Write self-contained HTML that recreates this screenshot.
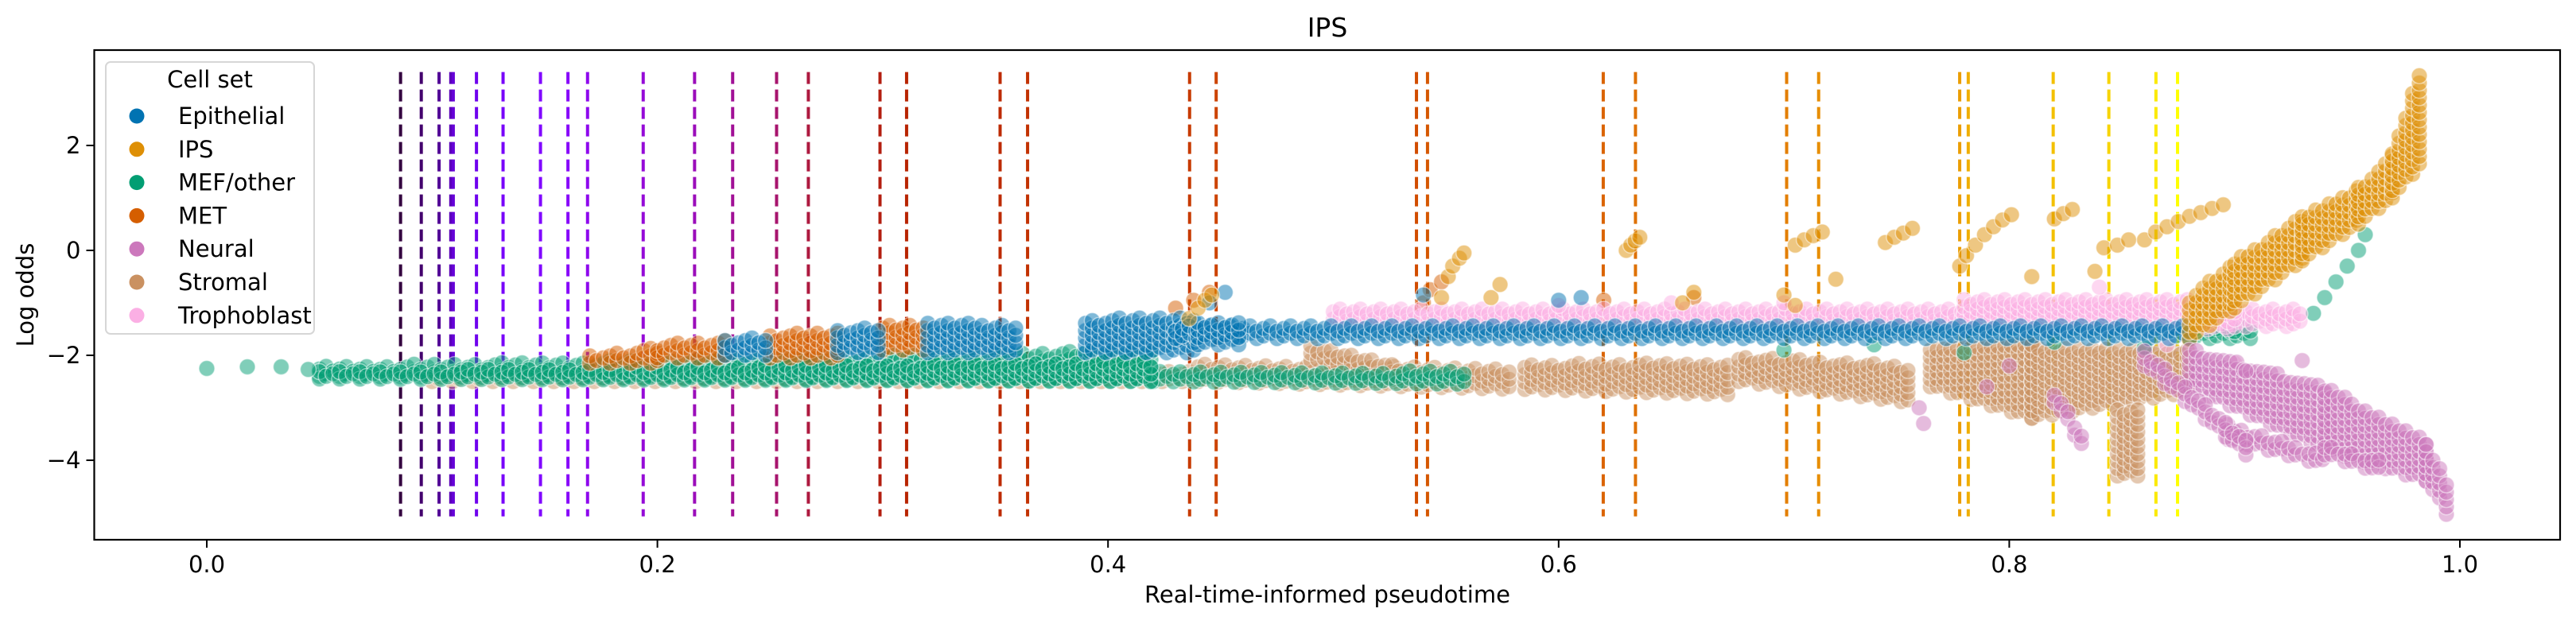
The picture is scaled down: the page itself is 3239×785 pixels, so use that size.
<!DOCTYPE html>
<html><head><meta charset="utf-8"><title>IPS</title>
<style>html,body{margin:0;padding:0;background:#fff;}svg{display:block;font-family:"DejaVu Sans","Liberation Sans",sans-serif;}</style>
</head><body>
<svg id="chart" width="3239" height="785" viewBox="0 0 3239 785" xmlns="http://www.w3.org/2000/svg">
<rect width="3239" height="785" fill="#fff"/>
<g id="vlines"></g>
<g id="points"></g>
<rect x="118.5" y="63" width="3100.5" height="616" fill="none" stroke="#000" stroke-width="2.2"/>
<g id="axes"></g>
<text x="1669" y="46" font-size="33" text-anchor="middle">IPS</text>
<text x="1669" y="758" font-size="29" text-anchor="middle">Real-time-informed pseudotime</text>
<text x="0" y="0" font-size="29" text-anchor="middle" transform="translate(42,371) rotate(-90)">Log odds</text>
<g id="legend">
<rect x="133" y="78" width="262" height="342" rx="6" fill="#fff" fill-opacity="0.85" stroke="#d6d6d6" stroke-width="2"/>
<text x="264" y="110" font-size="29" text-anchor="middle">Cell set</text>
</g>
</svg>
<script>
// ---- data ----
const categories = ["Epithelial","IPS","MEF/other","MET","Neural","Stromal","Trophoblast"];
const catColors = ["#0173b2","#de8f05","#029e73","#d55e00","#cc78bc","#ca9161","#fbafe4"];
const drawOrder = ["Stromal","MEF/other","MET","Trophoblast","Epithelial","IPS","Neural"];
const xTicks = [0.0,0.2,0.4,0.6,0.8,1.0];
const xTickLabels = ["0.0","0.2","0.4","0.6","0.8","1.0"];
const yTicks = [2,0,-2,-4];
const yTickLabels = ["2","0","\u22122","\u22124"];
const vlineX = [0.0860,0.0952,0.1031,0.1083,0.1094,0.1197,0.1315,0.1481,0.1603,0.1690,0.1937,0.2165,0.2334,0.2529,0.2670,0.2988,0.3106,0.3521,0.3643,0.4362,0.4480,0.5369,0.5418,0.6198,0.6341,0.7012,0.7154,0.7780,0.7818,0.8195,0.8442,0.8651,0.8747];
const vlineYMin = -5.07;
const vlineYMax = 3.40;
// dense clusters: category, x-range, top/bottom log odds at each end
const bandCat  = ["Stromal","MEF/other","MEF/other","MET","MET","Epithelial","MET","Epithelial","MET","Epithelial","Epithelial","Epithelial","Trophoblast","Trophoblast","Epithelial","Stromal","Stromal","Stromal","Stromal","Stromal","Stromal","Stromal","MEF/other","IPS","IPS","IPS","IPS","IPS","Neural","Neural","Neural","Neural","Neural","Neural","Neural","MEF/other"];
const bandX0   = [0.10,0.050,0.420,0.170,0.200,0.230,0.250,0.280,0.300,0.320,0.390,0.430,0.500,0.780,0.440,0.440,0.490,0.585,0.680,0.765,0.810,0.848,0.880,0.880,0.900,0.930,0.955,0.970,0.880,0.940,0.985,0.897,0.860,0.820,0.940,0.050];
const bandX1   = [0.44,0.420,0.560,0.200,0.230,0.250,0.280,0.300,0.320,0.360,0.440,0.880,0.930,0.900,0.460,0.580,0.530,0.675,0.755,0.810,0.880,0.858,0.907,0.900,0.930,0.955,0.970,0.982,0.940,0.985,0.995,0.940,0.905,0.833,0.965,0.420];
const bandTop0 = [-2.30,-2.20,-2.30,-2.00,-1.80,-1.70,-1.60,-1.52,-1.42,-1.38,-1.30,-1.42,-1.10,-0.90,-1.35,-2.15,-1.80,-2.15,-2.00,-1.80,-1.80,-3.00,-1.42,-0.90,-0.20,0.65,1.20,1.90,-1.85,-2.60,-3.60,-3.30,-1.90,-2.70,-3.70,-2.30];
const bandTop1 = [-2.30,-1.90,-2.30,-1.85,-1.70,-1.60,-1.52,-1.42,-1.38,-1.40,-1.25,-1.42,-1.10,-0.90,-1.35,-2.25,-2.20,-2.15,-2.20,-1.80,-1.90,-3.00,-1.42,-0.20,0.65,1.20,1.90,3.40,-2.60,-3.60,-4.50,-3.90,-3.60,-3.50,-4.00,-2.10];
const bandBot0 = [-2.50,-2.40,-2.50,-2.15,-2.05,-2.00,-2.05,-1.95,-1.90,-1.95,-1.95,-1.68,-1.45,-1.50,-1.80,-2.50,-2.10,-2.65,-2.50,-2.60,-3.20,-4.30,-1.68,-1.70,-1.10,-0.20,0.50,1.00,-2.60,-3.80,-4.40,-3.60,-2.20,-2.90,-3.90,-2.45];
const bandBot1 = [-2.50,-2.50,-2.55,-2.15,-2.05,-2.00,-2.05,-1.95,-1.90,-1.95,-1.95,-1.68,-1.45,-1.50,-1.80,-2.65,-2.50,-2.75,-2.90,-3.20,-2.70,-4.30,-1.68,-1.10,-0.20,0.50,1.00,1.60,-3.80,-4.40,-5.10,-4.10,-3.90,-3.80,-4.25,-2.50];
// individual points
const ptCat = ["MEF/other","MEF/other","MEF/other","MEF/other",
 "IPS","IPS","IPS","IPS","IPS","IPS","IPS","IPS","IPS","IPS","IPS","IPS","IPS","IPS","IPS","IPS","IPS","IPS","IPS","IPS","IPS","IPS","IPS","IPS","IPS","IPS","IPS","IPS","IPS","IPS","IPS","IPS","IPS","IPS","IPS","IPS","IPS","IPS","IPS","IPS","IPS","IPS","IPS","IPS","IPS","IPS","IPS","IPS","IPS","IPS","IPS",
 "MET","MET","MET","MET","MET","MET","MET","MET","MET",
 "Epithelial","Epithelial","Epithelial","Epithelial","Epithelial",
 "MEF/other","MEF/other","MEF/other","MEF/other","MEF/other","MEF/other","MEF/other","MEF/other","MEF/other","MEF/other","MEF/other","MEF/other",
 "Trophoblast","Trophoblast","Trophoblast","Trophoblast","Trophoblast","Trophoblast",
 "Neural","Neural","Neural","Neural","Neural","Neural"];
const ptX = [0.000,0.018,0.033,0.045,
 0.436,0.440,0.443,0.446,0.548,0.551,0.553,0.556,0.558,0.570,0.574,0.630,0.632,0.634,0.636,0.705,0.709,0.713,0.717,0.745,0.749,0.753,0.757,0.778,0.781,0.785,0.789,0.793,0.797,0.801,0.820,0.824,0.828,0.860,0.865,0.870,0.875,0.880,0.885,0.890,0.895,0.842,0.848,0.853,0.655,0.660,0.700,0.705,0.723,0.810,0.838,
 0.430,0.438,0.445,0.535,0.540,0.543,0.548,0.660,0.620,
 0.445,0.452,0.540,0.600,0.610,
 0.935,0.940,0.945,0.950,0.955,0.958,0.700,0.740,0.780,0.820,0.860,0.900,
 0.600,0.650,0.700,0.840,0.870,0.900,
 0.760,0.762,0.790,0.800,0.905,0.930];
const ptY = [-2.25,-2.22,-2.22,-2.27,
 -1.30,-1.10,-0.95,-0.85,-0.90,-0.50,-0.30,-0.15,-0.05,-0.90,-0.65,0.00,0.10,0.18,0.25,0.10,0.20,0.28,0.35,0.15,0.25,0.33,0.42,-0.30,-0.10,0.10,0.30,0.45,0.58,0.68,0.60,0.70,0.78,0.20,0.35,0.45,0.55,0.65,0.72,0.80,0.87,0.05,0.10,0.20,-1.00,-0.80,-0.85,-1.05,-0.55,-0.50,-0.40,
 -1.10,-0.95,-0.80,-1.50,-1.00,-0.75,-0.60,-0.90,-0.95,
 -1.00,-0.80,-0.85,-0.95,-0.90,
 -1.20,-0.90,-0.60,-0.30,0.00,0.30,-1.90,-1.80,-1.95,-1.75,-1.85,-1.55,
 -1.05,-1.00,-1.00,-0.70,-1.80,-2.15,
 -3.00,-3.30,-2.60,-2.20,-2.30,-2.10];

// ---- axes functions ----
const AX = {left:118.5, right:3219, top:63, bottom:679};
const X0 = 260, XS = 2833, Y0 = 315, YS = 66;
function sx(v){ return X0 + v*XS; }
function sy(v){ return Y0 - v*YS; }
function colorOf(c){ return catColors[categories.indexOf(c)]; }
const NS = "http://www.w3.org/2000/svg";
function mk(tag, attrs, parent){ const e=document.createElementNS(NS,tag); for(const k in attrs) e.setAttribute(k,attrs[k]); parent.appendChild(e); return e; }

// gnuplot colormap
function gnuplot(t){
  const r=Math.sqrt(t), g=t*t*t, b=Math.max(0,Math.sin(2*Math.PI*t));
  return "rgb("+Math.round(r*255)+","+Math.round(g*255)+","+Math.round(b*255)+")";
}
const vg = document.getElementById("vlines");
vlineX.forEach((v,i)=>{
  const t = 0.04 + 0.96*i/(vlineX.length-1);
  const l = mk("line",{x1:sx(v),x2:sx(v),y1:sy(vlineYMax),y2:sy(vlineYMin),stroke:gnuplot(t),"stroke-width":4,"stroke-dasharray":"15 7"},vg);
  
  
});

const pg = document.getElementById("points");
function dot(x,y,cat){
  const c = mk("circle",{cx:sx(x).toFixed(1),cy:sy(y).toFixed(1),r:10,fill:colorOf(cat),"fill-opacity":0.5,stroke:"#fff","stroke-opacity":0.5,"stroke-width":1.5},pg);
  
  
}
drawOrder.forEach(cat=>{
  for(let b=0;b<bandCat.length;b++){
    if(bandCat[b]!==cat) continue;
    const x0=bandX0[b], x1=bandX1[b];
    const dxStep=0.003;
    let col=0;
    for(let x=x0; x<=x1+1e-9; x+=dxStep, col++){
      const f=(x1>x0)?(x-x0)/(x1-x0):0;
      const top=bandTop0[b]+(bandTop1[b]-bandTop0[b])*f;
      const bot=bandBot0[b]+(bandBot1[b]-bandBot0[b])*f;
      const off=(col%3)*0.05;
      for(let y=bot+off; y<=top+1e-9; y+=0.14) dot(x,y,cat);
      if(top-bot<0.14) dot(x,(top+bot)/2,cat);
    }
  }
  for(let i=0;i<ptCat.length;i++) if(ptCat[i]===cat) dot(ptX[i],ptY[i],cat);
});

// axes ticks
const ag = document.getElementById("axes");
xTicks.forEach((v,i)=>{
  const t=mk("line",{x1:sx(v),x2:sx(v),y1:AX.bottom,y2:AX.bottom+10,stroke:"#000","stroke-width":2},ag);
  
  
  const tx=mk("text",{x:sx(v),y:AX.bottom+41,"font-size":29,"text-anchor":"middle"},ag);
  tx.textContent=xTickLabels[i];
  
  
});
yTicks.forEach((v,i)=>{
  const t=mk("line",{x1:AX.left-10,x2:AX.left,y1:sy(v),y2:sy(v),stroke:"#000","stroke-width":2},ag);
  
  
  const tx=mk("text",{x:AX.left-17,y:sy(v)+10,"font-size":29,"text-anchor":"end"},ag);
  tx.textContent=yTickLabels[i];
  
  
});

// legend
const lg=document.getElementById("legend");
categories.forEach((c,i)=>{
  const y=146+i*41.8;
  const g=mk("g",{},lg);
  
  
  mk("circle",{cx:172,cy:y,r:9.5,fill:catColors[i]},g);
  const t=mk("text",{x:224,y:y+10,"font-size":29},g);
  t.textContent=c;
});
</script>
</body></html>
